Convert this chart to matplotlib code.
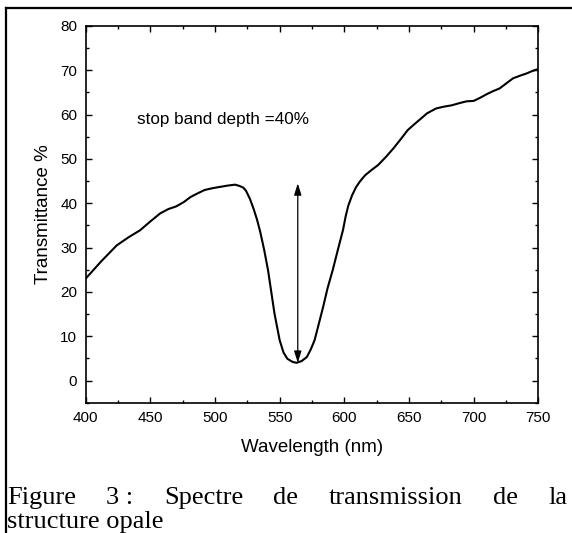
import matplotlib
matplotlib.use("Agg")
import matplotlib.pyplot as plt
from matplotlib.ticker import MultipleLocator
from matplotlib.lines import Line2D

wavelength = [400, 412, 424, 433, 442, 450, 457.5, 464, 470, 476, 481, 487, 492, 498,
              504, 510, 515.5, 519, 522, 524, 527, 530, 532.5, 535, 538, 541, 543.5, 546,
              550, 553, 556, 560, 563, 567, 571, 574, 577, 580, 583.6, 587, 591, 595,
              599, 601, 603, 606, 609, 612, 616, 621, 626, 632, 638, 644, 649, 654, 658,
              664, 671, 677, 683, 689, 694.5, 700, 705, 710, 715, 720, 725, 730.5, 736,
              741, 745, 750]
transmittance = [23.0, 26.9, 30.5, 32.3, 33.9, 35.9, 37.7, 38.7, 39.3, 40.3, 41.4, 42.3, 43.0, 43.4,
                 43.7, 44.0, 44.2, 43.9, 43.5, 42.8, 41.0, 38.6, 36.3, 33.5, 29.5, 24.9, 20.0, 15.1,
                 9.1, 6.3, 4.9, 4.2, 4.0, 4.4, 5.3, 7.0, 9.1, 12.5, 16.6, 20.8, 24.9, 29.5,
                 34.0, 37.0, 39.4, 41.8, 43.6, 44.9, 46.3, 47.5, 48.6, 50.4, 52.4, 54.6, 56.5, 57.8, 58.8,
                 60.3, 61.4, 61.8, 62.1, 62.6, 63.0, 63.1, 63.8, 64.6, 65.3, 65.9, 67.0, 68.2, 68.8,
                 69.3, 69.8, 70.3]
arrow_x = 564
arrow_top = 44.5
arrow_bottom = 4.0
annotation = "stop band depth =40%"
xlabel = "Wavelength (nm)"
ylabel = "Transmittance %"
caption_line1 = ["Figure", "3 :", "Spectre", "de", "transmission", "de", "la"]
caption_line2 = "structure opale"

W, H = 572, 533
fig = plt.figure(figsize=(W / 100, H / 100), dpi=100)
ax = fig.add_axes([85.7 / W, 1 - 402.7 / H, (538.3 - 85.7) / W, (402.7 - 26) / H])

sans = "Liberation Sans"
serif = "Liberation Serif"

ax.plot(wavelength, transmittance, color="black", lw=1.5)
ax.set_xlim(400, 750)
ax.set_ylim(-5, 80)

ax.xaxis.set_major_locator(MultipleLocator(50))
ax.xaxis.set_minor_locator(MultipleLocator(25))
ax.yaxis.set_major_locator(MultipleLocator(10))
ax.yaxis.set_minor_locator(MultipleLocator(5))
ax.tick_params(which="both", direction="in", top=True, right=True, width=1.0,
               labelsize=11, pad=6, colors="black")
ax.tick_params(which="major", length=4.5)
ax.tick_params(which="minor", length=2.5)
for lab in ax.get_xticklabels() + ax.get_yticklabels():
    lab.set_fontfamily(sans)
for s in ax.spines.values():
    s.set_linewidth(1.2)

ax.set_xlabel(xlabel, fontsize=13.5, family=sans, labelpad=10)
ax.set_ylabel(ylabel, fontsize=13.5, family=sans, labelpad=6)

ax.text(440, 58.8, annotation, fontsize=12.3, family=sans, ha="left", va="center")
ax.annotate("", xy=(arrow_x, arrow_bottom), xytext=(arrow_x, arrow_top),
            arrowprops=dict(arrowstyle="<|-|>,head_length=0.7,head_width=0.22",
                            color="black", lw=0.9, shrinkA=0, shrinkB=0))

# outer frame (cropped on right/bottom)
fig.add_artist(Line2D([5.5 / W, 5.5 / W], [0, 1 - 8 / H], transform=fig.transFigure,
                      color="black", lw=1.6))
fig.add_artist(Line2D([5.5 / W, 1.0], [1 - 8 / H, 1 - 8 / H], transform=fig.transFigure,
                      color="black", lw=1.6))

# caption, justified between x=7 and x=567
left_px, right_px = 7, 567
fs = 19
texts = [fig.text(0, 1 - 504 / H, w, fontsize=fs, family=serif, ha="left", va="baseline")
         for w in caption_line1]
fig.canvas.draw()
r = fig.canvas.get_renderer()
widths = [t.get_window_extent(r).width for t in texts]
gap = (right_px - left_px - sum(widths)) / (len(texts) - 1)
x = left_px
for t, wd in zip(texts, widths):
    t.set_x(x / W)
    x += wd + gap
fig.text(left_px / W, 1 - 528 / H, caption_line2, fontsize=fs, family=serif,
         ha="left", va="baseline")

fig.savefig("out.png", dpi=100)
